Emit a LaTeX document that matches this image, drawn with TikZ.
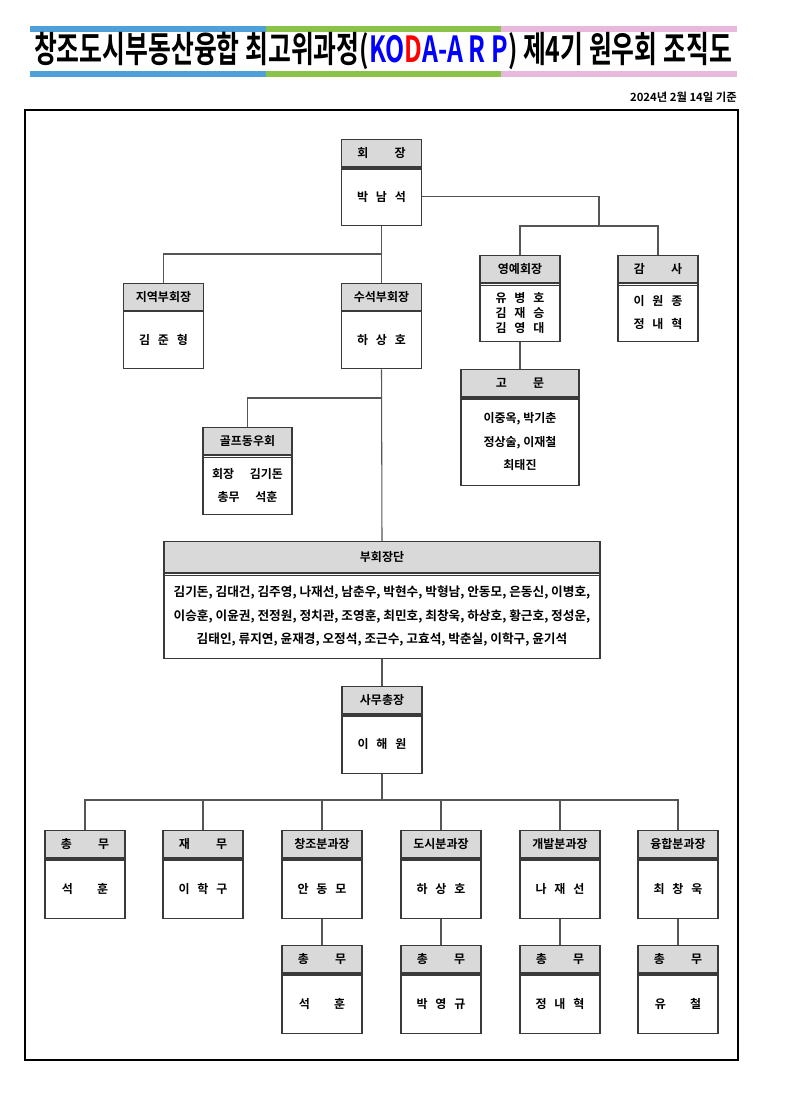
\documentclass[tikz,border=0pt]{standalone}
\usepackage{fontspec}
\setmainfont{Noto Sans CJK KR}[BoldFont={* Bold}]
\usetikzlibrary{positioning}
\definecolor{barblue}{HTML}{4F9FD8}
\definecolor{bargreen}{HTML}{8BC34A}
\definecolor{barpink}{HTML}{E8B9DC}
\definecolor{hdgray}{HTML}{D9D9D9}
\definecolor{boxline}{HTML}{3A3A3A}
\definecolor{linkgray}{HTML}{555555}
\definecolor{kodablue}{HTML}{0000FF}
\definecolor{kodared}{HTML}{FF0000}
\newdimen\pxu \pxu=0.75pt
\newcommand{\namegap}{\hspace{0.65em}}
\newcommand{\headgap}{\hspace{2.2em}}
\tikzset{
  hd/.style={draw=boxline,line width=0.9pt,fill=hdgray,minimum width=#1,minimum height=27\pxu,
    inner sep=0pt,anchor=north,font=\bfseries\fontsize{9}{11}\selectfont},
  hd/.default={80\pxu},
  bd/.style={draw=boxline,line width=0.9pt,fill=white,minimum width=#1,minimum height=58\pxu,
    inner sep=0pt,align=center,font=\bfseries\fontsize{9}{17.5}\selectfont},
  bd/.default={80\pxu},
  sepbar/.style={draw=boxline,line width=2.2pt},
  septhin/.style={draw=boxline,line width=0.7pt},
  link/.style={draw=linkgray,line width=0.8pt}
}

\begin{document}
\begin{tikzpicture}[x=\pxu,y=-\pxu]
  \useasboundingbox (0,0) rectangle (795,1120);
  % title with coloured bars above and below
  \fill[barblue] (30,26) rectangle (266,32);
  \fill[bargreen] (266,26) rectangle (501,32);
  \fill[barpink] (501,26) rectangle (737,32);
  \fill[barblue] (30,71) rectangle (266,77);
  \fill[bargreen] (266,71) rectangle (501,77);
  \fill[barpink] (501,71) rectangle (737,77);
  \node[font=\bfseries\fontsize{27}{29}\selectfont] (title) at (383,51)
    {\scalebox{0.69}[1]{창조도시부동산융합 최고위과정(\textcolor{kodablue}{KO}\textcolor{kodared}{D}\textcolor{kodablue}{A-A R P}) 제4기 원우회 조직도}};
  \node[anchor=east,inner sep=0pt,font=\bfseries\fontsize{8.5}{10}\selectfont] (date) at (737,97) {2024년 2월 14일 기준};
  \draw[line width=0.8pt] (25,110) rectangle (738,1060);

  % upper part
  \node[hd] (chair-h) at (381.5,139) {회\headgap 장};
  \node[bd,below=0pt of chair-h] (chair) {박\namegap 남\namegap 석};
  \node[hd] (regional-h) at (163.5,283) {지역부회장};
  \node[bd,below=0pt of regional-h,minimum height=57\pxu] (regional) {김\namegap 준\namegap 형};
  \node[hd] (senior-h) at (381.5,283) {수석부회장};
  \node[bd,below=0pt of senior-h,minimum height=57\pxu] (senior) {하\namegap 상\namegap 호};
  \node[hd] (honor-h) at (520,255) {영예회장};
  \node[bd,below=0pt of honor-h,font=\bfseries\fontsize{9}{11.25}\selectfont] (honor)
    {유\namegap 병\namegap 호\\김\namegap 재\namegap 승\\김\namegap 영\namegap 대};
  \node[hd] (audit-h) at (658,255) {감\headgap 사};
  \node[bd,below=0pt of audit-h] (audit) {이\namegap 원\namegap 종\\정\namegap 내\namegap 혁};
  \node[hd=118\pxu] (advisor-h) at (520,369) {고\headgap 문};
  \node[bd=118\pxu,below=0pt of advisor-h,minimum height=88\pxu] (advisor)
    {이중옥, 박기춘\\정상술, 이재철\\최태진};
  \node[hd=89\pxu] (golf-h) at (247.5,427) {골프동우회};
  \node[bd=89\pxu,below=0pt of golf-h,minimum height=59\pxu] (golf)
    {회장\hspace{1.3em}김기돈\\총무\hspace{1.3em}석훈};
  \node[hd=436\pxu,minimum height=31\pxu] (vice-h) at (382,541) {부회장단};
  \node[bd=436\pxu,below=0pt of vice-h,minimum height=85\pxu,font=\bfseries\fontsize{9.5}{17.6}\selectfont] (vice)
    {김기돈, 김대건, 김주영, 나재선, 남춘우, 박현수, 박형남, 안동모, 은동신, 이병호,\\
     이승훈, 이윤권, 전정원, 정치관, 조영훈, 최민호, 최창욱, 하상호, 황근호, 정성운,\\
     김태인, 류지연, 윤재경, 오정석, 조근수, 고효석, 박춘실, 이학구, 윤기석};
  \node[hd] (secgen-h) at (382,686) {사무총장};
  \node[bd,below=0pt of secgen-h,minimum height=59\pxu] (secgen) {이\namegap 해\namegap 원};

  % divisions and their secretaries
  \foreach \x/\n/\h/\b in {85/gaffairs/{총\headgap 무}/{석\hspace{2em}훈},
      203/finance/{재\headgap 무}/{이\namegap 학\namegap 구},
      322/creation/{창조분과장}/{안\namegap 동\namegap 모},
      441/city/{도시분과장}/{하\namegap 상\namegap 호},
      560/develop/{개발분과장}/{나\namegap 재\namegap 선},
      678/fusion/{융합분과장}/{최\namegap 창\namegap 욱}}{
    \node[hd] (\n-h) at (\x,830) {\h};
    \node[bd,below=0pt of \n-h,minimum height=60\pxu] (\n) {\b};
  }
  \foreach \x/\n/\b in {322/creationsec/{석\hspace{2em}훈},
      441/citysec/{박\namegap 영\namegap 규},
      560/developsec/{정\namegap 내\namegap 혁},
      678/fusionsec/{유\hspace{2em}철}}{
    \node[hd] (\n-h) at (\x,945) {총\headgap 무};
    \node[bd,below=0pt of \n-h,minimum height=60\pxu] (\n) {\b};
  }

  % lines under the headers
  \foreach \n in {chair,advisor,secgen,gaffairs,finance,creation,city,develop,fusion,
      creationsec,citysec,developsec,fusionsec}
    \draw[sepbar] ([yshift=-1.1pt]\n-h.south west) -- ([yshift=-1.1pt]\n-h.south east);
  \foreach \n in {honor,audit,golf,vice}{
    \draw[septhin] (\n-h.south west) -- (\n-h.south east);
    \draw[septhin] ([yshift=-2pt]\n-h.south west) -- ([yshift=-2pt]\n-h.south east);
  }
  \foreach \n in {regional,senior}
    \draw[septhin] (\n-h.south west) -- (\n-h.south east);

  % connectors
  \coordinate (topfork) at (599,226);
  \coordinate (regfork) at (381.5,254);
  \coordinate (golffork) at (381.5,398);
  \coordinate (rowfork) at (382,800);
  \draw[link] (chair.east) -| (topfork);
  \draw[link] (honor-h.north) |- (topfork) -| (audit-h.north);
  \draw[link] (chair.south) -- (senior-h.north);
  \draw[link] (regional-h.north) |- (regfork);
  \draw[link] (honor.south) -- (advisor-h.north);
  \draw[link] (senior.south) -- (vice-h.north);
  \draw[link] (golf-h.north) |- (golffork);
  \draw[link] (vice.south) -- (secgen-h.north);
  \draw[link] (secgen.south) -- (rowfork);
  \foreach \n in {gaffairs,finance,creation,city,develop,fusion}
    \draw[link] (\n-h.north) |- (rowfork);
  \foreach \n in {creation,city,develop,fusion}
    \draw[link] (\n.south) -- (\n sec-h.north);
\end{tikzpicture}
\end{document}
